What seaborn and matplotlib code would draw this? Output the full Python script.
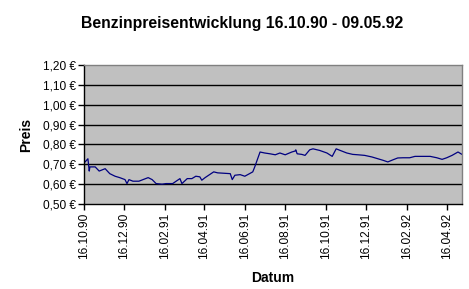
import matplotlib
matplotlib.use("Agg")
import matplotlib.pyplot as plt
from matplotlib.ticker import FuncFormatter
import seaborn as sns
import pandas as pd

# --- data ---
start_date = "1990-10-16"
end_date = "1992-05-09"
day_offsets = [0, 6, 8, 9, 17, 23, 32, 39, 47, 54, 62, 65, 68, 74, 83, 97, 103, 109,
               118, 124, 134, 145, 148, 156, 163, 169, 175, 178, 183, 196, 202, 221,
               224, 228, 236, 243, 255, 258, 266, 273, 281, 289, 296, 304, 314, 319,
               320, 322, 329, 334, 341, 346, 356, 367, 375, 381, 387, 397, 406, 414,
               424, 435, 444, 452, 459, 467, 474, 482, 492, 500, 523, 533, 541, 548,
               556, 565, 571]
prices = [0.706, 0.728, 0.666, 0.687, 0.687, 0.666, 0.678, 0.653, 0.640, 0.633, 0.623,
          0.603, 0.623, 0.615, 0.615, 0.633, 0.623, 0.603, 0.600, 0.603, 0.603, 0.628,
          0.603, 0.628, 0.628, 0.640, 0.637, 0.620, 0.633, 0.662, 0.657, 0.653, 0.623,
          0.645, 0.648, 0.640, 0.662, 0.687, 0.762, 0.757, 0.753, 0.748, 0.757, 0.748,
          0.762, 0.767, 0.773, 0.753, 0.750, 0.745, 0.773, 0.778, 0.770, 0.757, 0.740,
          0.778, 0.770, 0.757, 0.750, 0.748, 0.745, 0.737, 0.728, 0.720, 0.712, 0.723,
          0.732, 0.733, 0.733, 0.740, 0.740, 0.733, 0.725, 0.733, 0.745, 0.762, 0.750]
x_tick_labels = ["16.10.90", "16.12.90", "16.02.91", "16.04.91", "16.06.91",
                 "16.08.91", "16.10.91", "16.12.91", "16.02.92", "16.04.92"]
y_ticks = [0.50, 0.60, 0.70, 0.80, 0.90, 1.00, 1.10, 1.20]
title = "Benzinpreisentwicklung 16.10.90 - 09.05.92"

sns.set_style("white")
plt.rcParams["font.family"] = ["Liberation Sans", "DejaVu Sans"]
plt.rcParams["text.color"] = "black"
plt.rcParams["axes.labelcolor"] = "black"

dates = pd.Timestamp(start_date) + pd.to_timedelta(day_offsets, unit="D")
df = pd.DataFrame({"Datum": dates, "Preis": prices})

fig = plt.figure(figsize=(4.69, 2.89), dpi=100)
ax = fig.add_axes([0.179, 0.294, 0.806, 0.481])
ax.set_facecolor("#c0c0c0")

sns.lineplot(data=df, x="Datum", y="Preis", ax=ax, color="#000080", linewidth=0.9)

ax.set_xlim(pd.Timestamp(start_date), pd.Timestamp(end_date))
ax.set_ylim(0.5, 1.2)
ax.set_yticks(y_ticks)
ax.yaxis.set_major_formatter(FuncFormatter(lambda v, p: f"{v:.2f} €".replace(".", ",")))
xt = pd.to_datetime(x_tick_labels, format="%d.%m.%y")
ax.set_xticks(xt)
ax.set_xticklabels(x_tick_labels, rotation=90)

for y in y_ticks[1:-1]:
    ax.axhline(y, color="black", linewidth=1.0, zorder=1)

for side in ["top", "right"]:
    ax.spines[side].set_color("#808080")
    ax.spines[side].set_linewidth(1.0)
for side in ["left", "bottom"]:
    ax.spines[side].set_color("black")
    ax.spines[side].set_linewidth(1.0)

ax.tick_params(axis="both", direction="out", length=4, width=1, color="black",
               labelsize=8.6, pad=2, labelcolor="black")
ax.tick_params(axis="x", bottom=True)
ax.tick_params(axis="y", left=True)

ax.set_xlabel("Datum", fontsize=10, fontweight="bold", labelpad=9)
ax.set_ylabel("Preis", fontsize=10, fontweight="bold", labelpad=7)
fig.text(0.516, 0.917, title, fontsize=11.3, fontweight="bold", ha="center", va="center",
         color="black")

fig.savefig("out.png", dpi=100)
